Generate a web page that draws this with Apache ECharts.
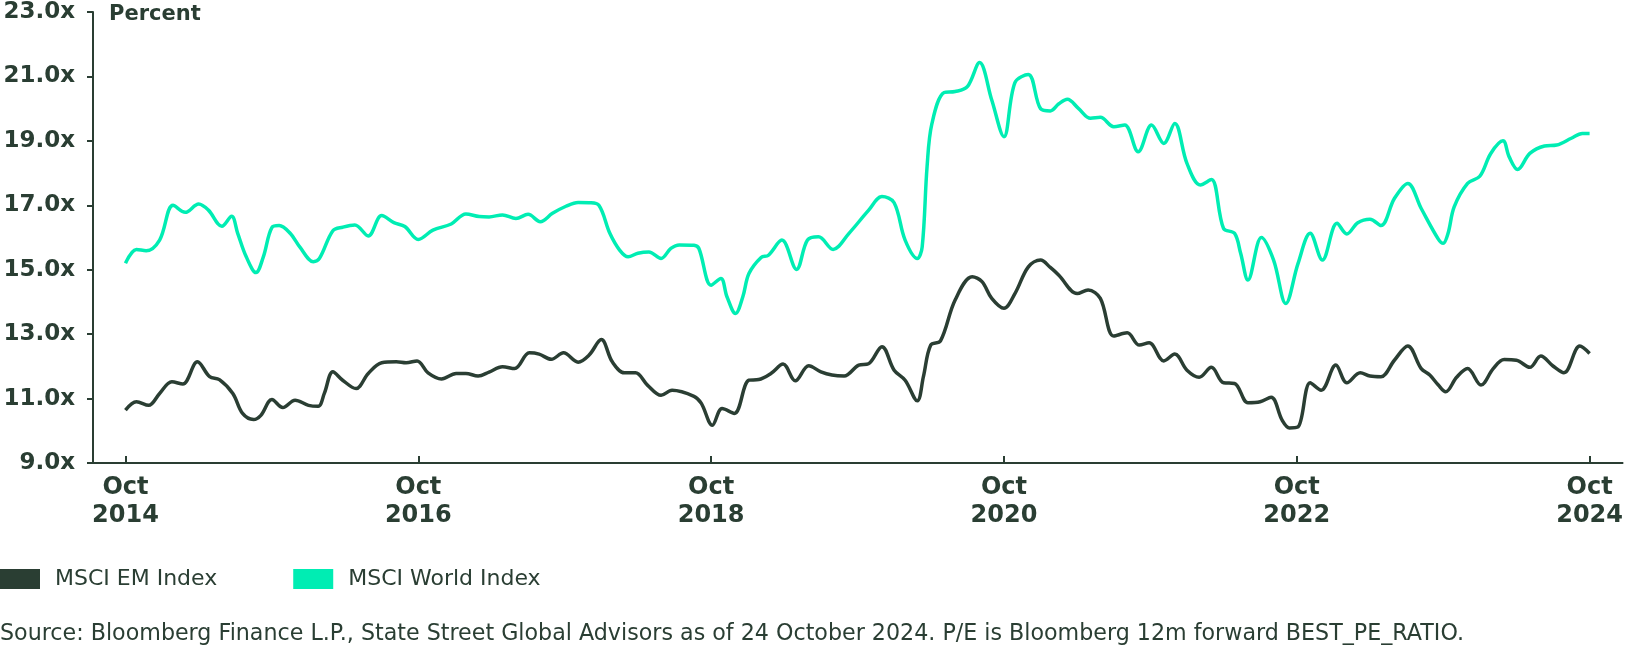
<!DOCTYPE html>
<html>
<head>
<meta charset="utf-8">
<title>MSCI EM vs World forward P/E</title>
<script src="https://cdn.jsdelivr.net/npm/echarts@6.0.0/dist/echarts.min.js"></script>
<style>
  html, body { margin: 0; padding: 0; background: #fff; }
  #chart { width: 1626px; height: 648px; }
</style>
</head>
<body>
<div id="chart"></div>
<script>
// months after Oct 2014
const worldMonths = [0, 0.9, 1.7, 2.8, 3.9, 4.9, 6.0, 6.8, 7.9, 8.7, 9.2, 9.9, 10.7, 11.3, 12.0, 12.6, 13.5, 14.3, 15.4, 15.9,
  17.0, 17.8, 18.8, 19.9, 21.0, 22.0, 22.9, 24.0, 25.2, 26.7, 27.9, 29.0, 29.8, 30.9, 32.0, 33.0, 34.0, 35.0, 36.1, 37.1,
  38.0, 38.8, 39.7, 40.5, 41.2, 42.0, 42.9, 43.9, 44.7, 45.4, 46.6, 47.0, 48.0, 48.8, 49.3, 50.0, 50.6, 51.1, 52.1, 52.7,
  53.8, 55.0, 55.9, 56.8, 58.0, 59.3, 60.9, 62.0, 63.0, 63.9, 64.9, 65.3, 65.7, 66.1, 67.1, 68.0, 69.0, 70.0, 71.0, 72.0,
  72.9, 74.0, 75.0, 75.8, 76.5, 77.2, 78.1, 79.1, 79.9, 81.0, 81.9, 83.0, 84.1, 85.1, 86.0, 87.0, 88.1, 89.0, 90.0, 90.9,
  91.4, 92.0, 93.1, 94.1, 95.1, 96.1, 97.1, 98.1, 99.3, 100.1, 101.0, 102.0, 102.9, 104.0, 105.1, 106.2, 107.6, 108.0, 108.4, 108.9,
  110.0, 111.0, 111.9, 112.9, 113.4, 114.1, 115.1, 116.3, 117.3, 118.5, 119.4, 120.0];
const worldPE = [15.2, 15.63, 15.59, 15.92, 17.0, 16.78, 17.04, 16.85, 16.35, 16.66, 16.13, 15.4, 14.91, 15.4, 16.31, 16.37, 16.13, 15.7, 15.25, 15.35,
  16.21, 16.32, 16.39, 16.05, 16.68, 16.46, 16.34, 15.94, 16.23, 16.42, 16.73, 16.65, 16.64, 16.7, 16.59, 16.72, 16.49, 16.75, 16.97, 17.09,
  17.08, 17.0, 16.13, 15.61, 15.4, 15.51, 15.55, 15.35, 15.66, 15.77, 15.76, 15.66, 14.52, 14.73, 14.16, 13.64, 14.16, 14.88, 15.38, 15.45,
  15.92, 15.01, 15.92, 16.02, 15.63, 16.13, 16.84, 17.27, 17.08, 15.92, 15.35, 15.71, 18.2, 19.54, 20.5, 20.53, 20.68, 21.43, 20.27, 19.13,
  20.81, 21.06, 20.0, 19.93, 20.15, 20.29, 20.01, 19.7, 19.73, 19.44, 19.49, 18.66, 19.49, 18.92, 19.54, 18.3, 17.63, 17.8, 16.28, 16.13,
  15.51, 14.68, 16.0, 15.3, 13.95, 15.19, 16.13, 15.3, 16.44, 16.11, 16.46, 16.57, 16.37, 17.21, 17.68, 16.9, 15.95, 15.82, 16.13, 16.95,
  17.68, 17.9, 18.61, 19.0, 18.51, 18.11, 18.61, 18.84, 18.87, 19.08, 19.23, 19.23];

const emMonths = [0, 0.9, 1.9, 2.8, 3.8, 4.7, 5.9, 6.9, 7.7, 8.8, 9.6, 10.5, 11.1, 12.0, 12.9, 13.9, 15.0, 15.8, 16.3, 17.0,
  17.8, 18.9, 19.9, 21.0, 22.2, 23.0, 23.9, 24.8, 25.9, 27.1, 27.9, 28.9, 29.8, 30.9, 31.9, 33.1, 33.9, 34.9, 35.9, 37.1,
  38.0, 39.0, 39.9, 40.9, 41.8, 42.8, 43.9, 44.8, 46.6, 47.2, 48.1, 48.9, 49.9, 51.1, 51.9, 52.9, 53.9, 54.9, 56.0, 57.0,
  57.9, 58.9, 60.1, 60.9, 62.0, 63.0, 63.9, 64.9, 65.4, 66.0, 66.8, 68.0, 69.4, 70.2, 71.0, 72.0, 72.9, 74.0, 75.0, 75.8,
  76.5, 78.0, 78.9, 79.9, 81.0, 82.1, 83.1, 83.9, 85.1, 86.0, 87.0, 88.0, 89.0, 90.0, 90.9, 92.0, 93.0, 93.9, 94.8, 95.4,
  96.1, 97.1, 98.0, 99.2, 100.1, 101.2, 102.0, 102.9, 104.0, 105.1, 106.2, 106.9, 107.6, 108.2, 109.1, 110.0, 111.1, 112.1, 113.0, 114.0,
  115.1, 116.0, 117.0, 117.9, 119.2, 120.0];
const emPE = [10.64, 10.9, 10.79, 11.16, 11.52, 11.45, 12.14, 11.68, 11.59, 11.16, 10.54, 10.35, 10.48, 10.97, 10.72, 10.95, 10.79, 10.76, 11.16, 11.83,
  11.57, 11.31, 11.78, 12.11, 12.14, 12.11, 12.17, 11.8, 11.61, 11.78, 11.78, 11.7, 11.82, 11.99, 11.93, 12.42, 12.38, 12.22, 12.42, 12.13,
  12.35, 12.83, 12.14, 11.8, 11.8, 11.41, 11.1, 11.26, 11.07, 10.85, 10.17, 10.69, 10.54, 11.57, 11.59, 11.78, 12.07, 11.55, 12.02, 11.83,
  11.73, 11.7, 12.04, 12.08, 12.61, 11.88, 11.57, 10.93, 11.68, 12.66, 12.79, 14.06, 14.78, 14.63, 14.11, 13.8, 14.26, 15.09, 15.3, 15.07,
  14.83, 14.26, 14.37, 14.11, 12.94, 13.04, 12.66, 12.73, 12.17, 12.38, 11.88, 11.66, 11.97, 11.49, 11.47, 10.87, 10.9, 11.04, 10.33, 10.09,
  10.12, 11.49, 11.26, 12.04, 11.49, 11.8, 11.7, 11.68, 12.19, 12.63, 11.93, 11.73, 11.42, 11.21, 11.66, 11.93, 11.42, 11.93, 12.21, 12.19,
  11.97, 12.32, 12.01, 11.8, 12.63, 12.4];

const tickMonths = [0, 24, 48, 72, 96, 120];
const tickLabels = ['Oct\n2014', 'Oct\n2016', 'Oct\n2018', 'Oct\n2020', 'Oct\n2022', 'Oct\n2024'];

const DARK = '#2a3e33';
const MINT = '#00edb3';

const pair = (xs, ys) => xs.map((x, i) => [x, ys[i]]);

const chart = echarts.init(document.getElementById('chart'));
chart.setOption({
  animation: false,
  backgroundColor: '#fff',
  textStyle: { fontFamily: 'DejaVu Sans' },
  title: {
    text: 'Percent',
    left: 109,
    top: 4,
    padding: 0,
    textStyle: { fontFamily: 'DejaVu Sans', fontWeight: 'bold', fontSize: 21, color: DARK }
  },
  grid: { left: 93, right: 1, top: 12, bottom: 185, containLabel: false },
  legend: {
    left: 0,
    top: 568,
    padding: 0,
    icon: 'rect',
    itemWidth: 40,
    itemHeight: 20,
    itemGap: 76,
    selectedMode: false,
    data: ['MSCI EM Index', 'MSCI World Index'],
    textStyle: { fontFamily: 'DejaVu Sans', fontSize: 22, color: DARK, padding: [0, 0, 0, 10] }
  },
  graphic: [{
    type: 'text',
    left: 0,
    top: 623,
    style: {
      text: 'Source: Bloomberg Finance L.P., State Street Global Advisors as of 24 October 2024. P/E is Bloomberg 12m forward BEST_PE_RATIO.',
      font: '22.2px "DejaVu Sans"',
      fill: DARK
    }
  }],
  xAxis: {
    type: 'value',
    min: -2.66,
    max: 122.7,
    splitLine: { show: false },
    axisLine: { lineStyle: { color: DARK, width: 2 } },
    axisTick: { show: true, inside: true, length: 7, customValues: tickMonths, lineStyle: { color: DARK, width: 2 } },
    axisLabel: {
      customValues: tickMonths,
      margin: 11,
      lineHeight: 28,
      fontSize: 24,
      fontWeight: 'bold',
      fontFamily: 'DejaVu Sans',
      color: DARK,
      formatter: v => tickLabels[tickMonths.indexOf(Math.round(v))] || ''
    }
  },
  yAxis: {
    type: 'value',
    min: 9,
    max: 23,
    interval: 2,
    splitLine: { show: false },
    axisLine: { show: true, onZero: false, lineStyle: { color: DARK, width: 2 } },
    axisTick: { show: true, length: 6, lineStyle: { color: DARK, width: 2 } },
    axisLabel: {
      margin: 18,
      fontSize: 23,
      fontWeight: 'bold',
      fontFamily: 'DejaVu Sans',
      color: DARK,
      formatter: v => v.toFixed(1) + 'x'
    }
  },
  series: [
    {
      name: 'MSCI EM Index',
      type: 'line',
      data: pair(emMonths, emPE),
      smooth: 0.35,
      showSymbol: false,
      itemStyle: { color: DARK },
      lineStyle: { color: DARK, width: 3.5 }
    },
    {
      name: 'MSCI World Index',
      type: 'line',
      data: pair(worldMonths, worldPE),
      smooth: 0.35,
      showSymbol: false,
      itemStyle: { color: MINT },
      lineStyle: { color: MINT, width: 3.5 }
    }
  ]
});
</script>
</body>
</html>
